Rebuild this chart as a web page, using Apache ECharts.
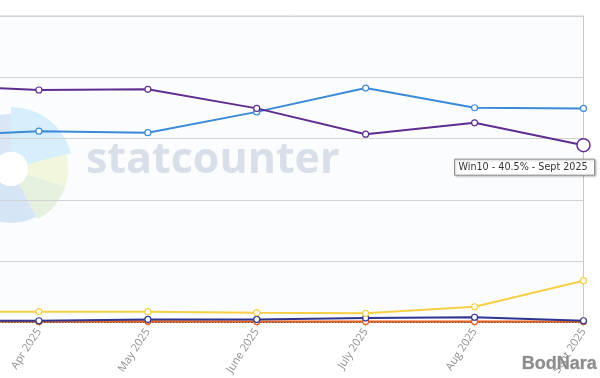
<!DOCTYPE html>
<html><head><meta charset="utf-8">
<script src="https://cdn.jsdelivr.net/npm/echarts@6/dist/echarts.min.js"></script>
<style>html,body{margin:0;padding:0;background:#fff}#c{width:600px;height:378px}</style>
</head><body><div id="c"></div>
<script>
const categories = ['Mar 2025','Apr 2025','May 2025','June 2025','July 2025','Aug 2025','Sept 2025'];
const win11  = [42.45, 43.7, 43.35, 48.1, 53.55, 49.05, 48.9];
const win10  = [54.17, 53.1, 53.25, 48.9, 43.0, 45.6, 40.5];
const win7   = [2.5, 2.47, 2.47, 2.24, 2.1, 3.6, 9.55];
const win81  = [0.4, 0.4, 0.7, 0.7, 1.0, 1.2, 0.4];
const win8   = [0.2, 0.2, 0.3, 0.2, 0.2, 0.2, 0.2];
const winxp  = [0.05, 0.05, 0.05, 0.05, 0.05, 0.05, 0.05];
const yTicks = [0, 14, 28, 42, 56, 70];
const tipSeries = 'Win10', tipIndex = 6;

const chart = echarts.init(document.getElementById('c'), null, {renderer:'canvas'});
function mk(name, data, color, opts) {
  return Object.assign({
    name, type:'line', z:5, data: data.map((v,i)=> (name===tipSeries && i===tipIndex) ? {value:v, symbolSize:13, itemStyle:{borderWidth:1.5}} : v),
    symbol:'circle', symbolSize:6, showAllSymbol:true,
    lineStyle:{color, width:2},
    itemStyle:{color:'#fff', borderColor:color, borderWidth:1.2},
    emphasis:{disabled:true}, animation:false
  }, opts||{});
}
const op = 0.85;
const wz = 1;
const wm = { type:'group', z:wz, silent:true, children:[
  {type:'sector', z:wz, shape:{cx:11, cy:169, r0:17, r:55, startAngle:Math.PI, endAngle:Math.PI*1.5}, style:{fill:'#d3e2f3', opacity:op}},
  {type:'sector', z:wz, shape:{cx:11, cy:169, r0:17, r:62, startAngle:-Math.PI/2, endAngle:-Math.PI*15/180}, style:{fill:'#d0ebfb', opacity:op}},
  {type:'sector', z:wz, shape:{cx:11, cy:169, r0:17, r:57, startAngle:-Math.PI*15/180, endAngle:Math.PI*18/180}, style:{fill:'#eef5d6', opacity:op}},
  {type:'sector', z:wz, shape:{cx:11, cy:169, r0:17, r:57, startAngle:Math.PI*18/180, endAngle:Math.PI*62/180}, style:{fill:'#e1eed8', opacity:op}},
  {type:'sector', z:wz, shape:{cx:11, cy:169, r0:17, r:54, startAngle:Math.PI*62/180, endAngle:Math.PI}, style:{fill:'#cfe1f4', opacity:op}},
  {type:'circle', z:wz, shape:{cx:11, cy:169, r:17}, style:{fill:'#ffffff'}},
  {type:'text', z:wz, left:86, top:139, style:{text:'statcounter', fill:'#d2d9e4', opacity:0.85, font:'bold 43px "Open Sans"'}}
]};
const option = {
  animation:false,
  backgroundColor:'#fff',
  grid:{z:0, left:-70, right:16.5, top:16, bottom:55.5, outerBoundsMode:'none', containLabel:false, show:true, backgroundColor:'#fbfcfe', borderColor:'#c8c8c8', borderWidth:1},
  xAxis:{z:3, type:'category', data:categories, boundaryGap:false,
    axisLine:{show:true, lineStyle:{color:'#c8c8c8'}},
    axisTick:{show:true, alignWithLabel:true, length:4, lineStyle:{color:'#c8c8c8'}},
    axisLabel:{interval:0, rotate:57, color:'#8f8f8f', fontSize:11, fontFamily:'Open Sans', margin:7}},
  yAxis:{z:3, type:'value', min:yTicks[0], max:yTicks[yTicks.length-1], interval:yTicks[1]-yTicks[0],
    axisLabel:{show:false}, axisLine:{show:false}, axisTick:{show:false},
    splitLine:{lineStyle:{color:'#d2d2d2', width:1}}},
  graphic:[wm],
  series:[
    mk('WinXP', winxp, '#333333', {lineStyle:{color:'#333', width:1.5, type:'dotted'}, symbolSize:4}),
    mk('Win8', win8, '#e8601c'),
    mk('Win8.1', win81, '#2e3590'),
    mk('Win7', win7, '#f6cf45'),
    mk('Win11', win11, '#3b8ad8'),
    mk('Win10', win10, '#5f2d8f'),
  ]
};
chart.setOption(option);
const p = chart.convertToPixel({xAxisIndex:0, yAxisIndex:0}, [categories[tipIndex], win10[tipIndex]]);
chart.setOption({graphic:[wm,
  {type:'group', z:100, children:[
    {type:'rect', z:100, shape:{x:p[0]-129, y:p[1]+14, width:140, height:16}, style:{fill:'#fff', stroke:'#8f8f8f', lineWidth:1, shadowBlur:2, shadowColor:'rgba(0,0,0,0.25)', shadowOffsetX:1, shadowOffsetY:1}},
    {type:'text', z:101, x:p[0]-125, y:p[1]+17, style:{text:tipSeries+' - '+win10[tipIndex]+'% - Sept 2025', fill:'#333', font:'9.6px "DejaVu Sans"'}}
  ]},
  {type:'text', z:100, right:3, bottom:5, style:{text:'BodNara', fill:'#8d8d8d', font:'bold 18px "Liberation Sans"', stroke:'#bbb', lineWidth:0.5}}
]});
</script></body></html>
